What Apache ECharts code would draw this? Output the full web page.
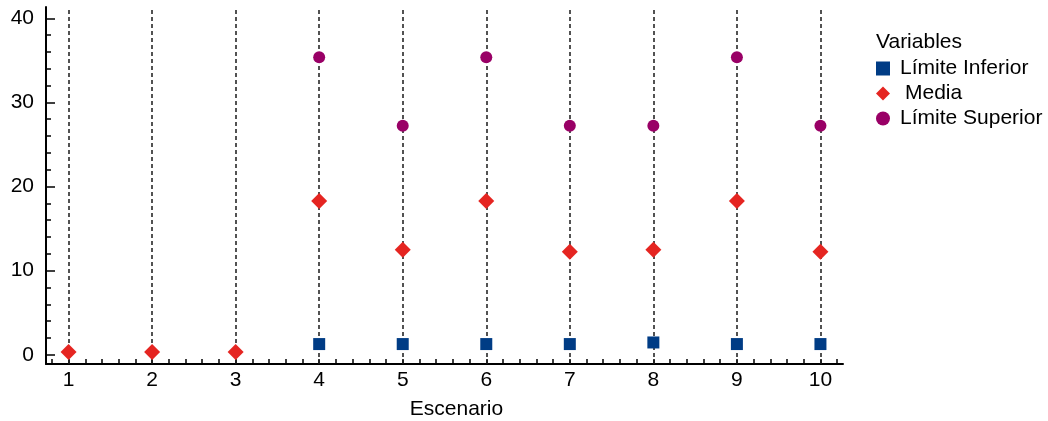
<!DOCTYPE html>
<html>
<head>
<meta charset="utf-8">
<script src="https://cdn.jsdelivr.net/npm/echarts@6/dist/echarts.min.js"></script>
<style>html,body{margin:0;padding:0;background:#fff}#c{width:1048px;height:421px}</style>
</head>
<body>
<div id="c"></div>
<script>
const escenarios = [1, 2, 3, 4, 5, 6, 7, 8, 9, 10];
const limiteInferior = [null, null, null, 1.27, 1.27, 1.27, 1.27, 1.46, 1.27, 1.27];
const media = [0.32, 0.32, 0.32, 18.29, 12.47, 18.29, 12.23, 12.47, 18.29, 12.23];
const limiteSuperior = [null, null, null, 35.36, 27.23, 35.36, 27.23, 27.23, 35.36, 27.23];
const yTickLabels = [0, 10, 20, 30, 40];
const seriesNames = ['Límite Inferior', 'Media', 'Límite Superior'];

const FONT = 'Liberation Sans, Arial, sans-serif';
const xMinor = [];
for (let i = 4; i <= 51; i++) xMinor.push(+(i * 0.2).toFixed(1));
const yMinor = [];
for (let v = 0; v <= 40; v += 2) yMinor.push(v);

function pairs(arr) {
  return escenarios.map((x, i) => arr[i] == null ? null : [x, arr[i]]).filter(d => d);
}

const Y_MIN = -1.1, Y_MAX = 41.34;

const chart = echarts.init(document.getElementById('c'), null, {renderer: 'canvas'});
chart.setOption({
  animation: false,
  grid: {left: 46, right: 205, top: 7, bottom: 57, containLabel: false, outerBoundsMode: 'none'},
  title: {
    text: 'Variables', left: 871, top: 27,
    textStyle: {fontFamily: FONT, fontSize: 21, fontWeight: 'normal', color: '#000'}
  },
  legend: {
    orient: 'vertical', left: 871, top: 53, itemGap: 4,
    itemWidth: 14, itemHeight: 14,
    textStyle: {fontFamily: FONT, fontSize: 21, color: '#000', padding: [0, 0, 0, 5]},
    data: [
      {name: seriesNames[0], icon: 'rect'},
      {name: seriesNames[1], icon: 'diamond', textStyle: {padding: [0, 0, 0, 10]}},
      {name: seriesNames[2], icon: 'circle'}
    ]
  },
  xAxis: {
    type: 'value', min: 0.73, max: 10.27,
    name: 'Escenario', nameLocation: 'middle', nameGap: 35,
    nameTextStyle: {fontFamily: FONT, fontSize: 21, color: '#000', padding: [0, 0, 0, 24]},
    axisLine: {show: true, onZero: false, lineStyle: {color: '#000', width: 2}},
    axisTick: {show: true, inside: true, length: 5, customValues: xMinor, lineStyle: {color: '#000', width: 1.5}},
    axisLabel: {customValues: escenarios, margin: 6, fontFamily: FONT, fontSize: 21, color: '#000'},
    splitLine: {show: false}
  },
  yAxis: [
    {
      type: 'value', min: Y_MIN, max: Y_MAX, position: 'left',
      axisLine: {show: true, onZero: false, lineStyle: {color: '#000', width: 2}},
      axisTick: {show: true, inside: true, length: 9, customValues: yTickLabels, lineStyle: {color: '#000', width: 1.5}},
      axisLabel: {customValues: yTickLabels, margin: 12, fontFamily: FONT, fontSize: 21, color: '#000'},
      splitLine: {show: false}
    },
    {
      type: 'value', min: Y_MIN, max: Y_MAX, position: 'left', offset: 0,
      axisLine: {show: false},
      axisTick: {show: true, inside: true, length: 5, customValues: yMinor, lineStyle: {color: '#000', width: 1.5}},
      axisLabel: {show: false},
      splitLine: {show: false}
    }
  ],
  series: [
    {
      type: 'scatter', name: '_guides', data: [], z: 1, silent: true,
      markLine: {
        z: 1, silent: true, symbol: ['none', 'none'], label: {show: false},
        lineStyle: {color: '#1a1a1a', width: 1.5, type: [4, 3]},
        emphasis: {disabled: true},
        data: escenarios.map(x => ({xAxis: x}))
      }
    },
    {
      type: 'scatter', name: seriesNames[0], data: pairs(limiteInferior), z: 3,
      symbol: 'rect', symbolSize: 12, itemStyle: {color: '#003C85', opacity: 1}
    },
    {
      type: 'scatter', name: seriesNames[1], data: pairs(media), z: 3,
      symbol: 'diamond', symbolSize: [16, 16], itemStyle: {color: '#E52521', opacity: 1}
    },
    {
      type: 'scatter', name: seriesNames[2], data: pairs(limiteSuperior), z: 3,
      symbol: 'circle', symbolSize: 12, itemStyle: {color: '#990066', opacity: 1}
    }
  ]
});
</script>
</body>
</html>
